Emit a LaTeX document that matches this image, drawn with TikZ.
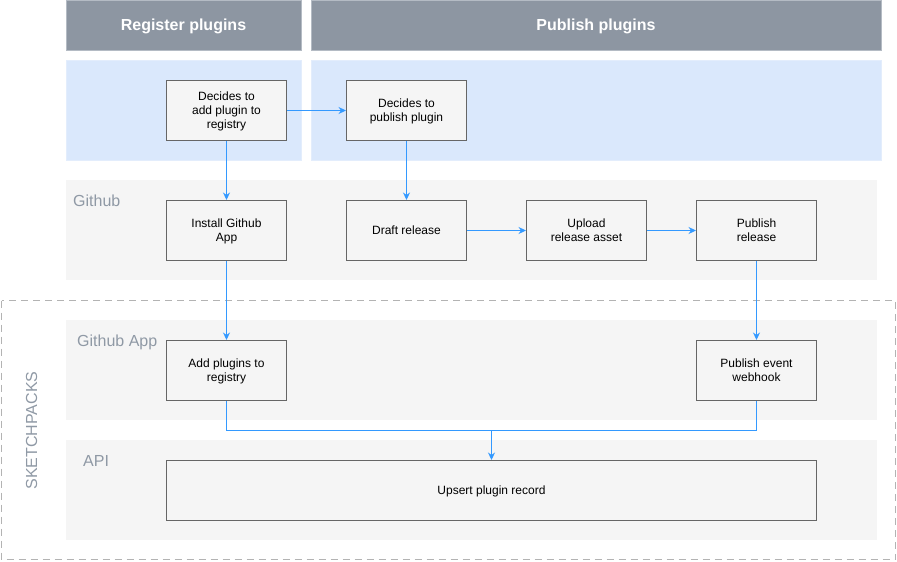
\documentclass[tikz,border=0pt]{standalone}
\usepackage{fontspec}
\setmainfont{Liberation Sans}
\usetikzlibrary{arrows.meta}
\definecolor{hdrfill}{HTML}{8D96A2}
\definecolor{hdrdraw}{HTML}{B4BBC4}
\definecolor{bluefill}{HTML}{DAE8FC}
\definecolor{bluedraw}{HTML}{E3EDFC}
\definecolor{greyband}{HTML}{F5F5F5}
\definecolor{boxdraw}{HTML}{666666}
\definecolor{arrowc}{HTML}{3399FF}
\definecolor{labelc}{HTML}{8F99A5}
\definecolor{dashc}{HTML}{B3B3B3}
\tikzset{
  stepbox/.style={draw=boxdraw, fill=greyband, line width=1pt, minimum width=120pt, minimum height=60pt, inner sep=2pt, align=center, text depth=0pt, font=\fontsize{12}{14}\selectfont},
  conn/.style={draw=arrowc, line width=1pt},
  arr/.style={conn, -{Stealth[length=7.5pt,width=7pt,inset=2.5pt]}},
  hdrtext/.style={text=white, font=\fontsize{16}{19}\selectfont\bfseries, anchor=base},
  lanelabel/.style={text=labelc, font=\fontsize{16}{19}\selectfont, anchor=base west, inner sep=0pt},
}
\begin{document}
\begin{tikzpicture}[x=1pt,y=-1pt]
\useasboundingbox (0,0) rectangle (897,562);
% headers
\draw[fill=hdrfill, draw=hdrdraw, line width=1pt] (66.5,0.5) rectangle (301.5,50.5);
\draw[fill=hdrfill, draw=hdrdraw, line width=1pt] (311.5,0.5) rectangle (881.5,50.5);
\node[hdrtext] (hreg) at (183.5,30.5) {Register plugins};
\node[hdrtext] (hpub) at (596,30.5) {Publish plugins};
% blue bands
\draw[fill=bluefill, draw=bluedraw, line width=1pt] (66.5,60.5) rectangle (301.5,160.5);
\draw[fill=bluefill, draw=bluedraw, line width=1pt] (311.5,60.5) rectangle (881.5,160.5);
% grey bands
\fill[greyband] (66,180) rectangle (877,280);
\fill[greyband] (66,320) rectangle (877,420);
\fill[greyband] (66,440) rectangle (877,540);
% dashed container
\draw[dashc, line width=1.5pt, dash pattern=on 7pt off 5pt] (1.5,300.5) rectangle (895.5,559.5);
% lane labels
\node[lanelabel] (lgithub) at (73,206.5) {Github};
\node[lanelabel] (lapp) at (77,346.5) {Github App};
\node[lanelabel] (lapi) at (83,466) {API};
\node[text=labelc, font=\fontsize{16}{19}\selectfont, rotate=90, inner sep=0pt] (lsk) at (31.7,430.5) {SKETCHPACKS};
% boxes
\node[stepbox] (dadd) at (226.5,110.5) {Decides to\\add plugin to\\registry};
\node[stepbox] (dpub) at (406.5,110.5) {Decides to\\publish plugin};
\node[stepbox] (install) at (226.5,230.5) {Install Github\\App};
\node[stepbox] (draft) at (406.5,230.5) {Draft release};
\node[stepbox] (upload) at (586.5,230.5) {Upload\\release asset};
\node[stepbox] (pubrel) at (756.5,230.5) {Publish\\release};
\node[stepbox] (addreg) at (226.5,370.5) {Add plugins to\\registry};
\node[stepbox] (webhook) at (756.5,370.5) {Publish event\\webhook};
\node[stepbox, minimum width=650pt] (upsert) at (491.5,490.5) {Upsert plugin record};
% connectors
\draw[arr] (dadd.east) -- (dpub.west);
\draw[arr] (dadd.south) -- (install.north);
\draw[arr] (dpub.south) -- (draft.north);
\draw[arr] (draft.east) -- (upload.west);
\draw[arr] (upload.east) -- (pubrel.west);
\draw[arr] (install.south) -- (addreg.north);
\draw[arr] (pubrel.south) -- (webhook.north);
\coordinate (merge) at (491.5,430.5);
\draw[conn] (addreg.south) |- (merge) -| (webhook.south);
\draw[arr] (merge) -- (upsert.north);
\end{tikzpicture}
\end{document}
